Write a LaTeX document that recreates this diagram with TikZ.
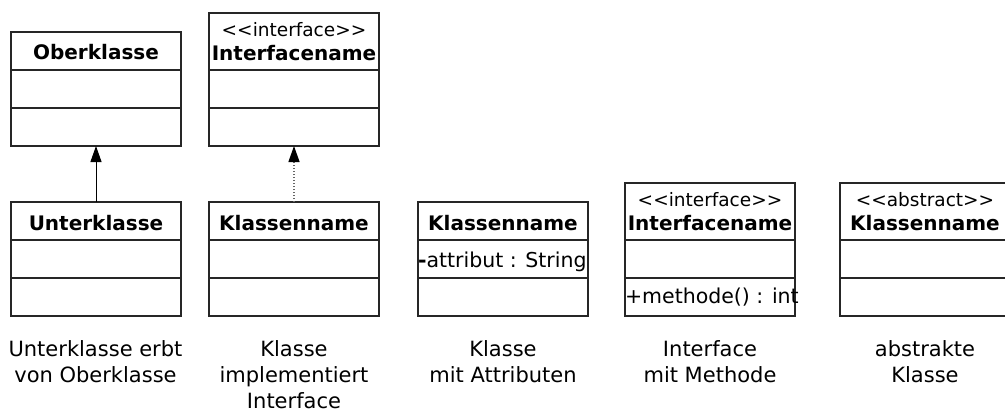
\documentclass[tikz,border=0pt]{standalone}
\usepackage{fontspec}
\newfontfamily\dv{DejaVu Sans}
\usetikzlibrary{arrows.meta}
\begin{document}
\begin{tikzpicture}[x=1pt,y=-1pt,
  box/.style={draw=black!85, line width=1.3pt, minimum width=170pt, inner sep=0pt, outer sep=0pt, anchor=north west},
  hdr/.style={box, minimum height=38pt, text height=18pt, text depth=0pt, font=\dv\fontsize{20}{23}\selectfont\bfseries},
  hdrtwo/.style={box, minimum height=57pt, align=center, font=\dv\fontsize{18.5}{24}\selectfont},
  comp/.style={box, minimum height=38pt},
  member/.style={comp, font=\dv\fontsize{20.5}{24}\selectfont},
  caption/.style={anchor=north, align=center, inner sep=0pt, font=\dv\fontsize{21}{26}\selectfont},
  inh/.style={draw=black, line width=1pt, -{Triangle[width=11pt,length=16pt,color=black]}},
  real/.style={inh, draw=black!60, line width=1.3pt, dash pattern=on 1.5pt off 1.5pt}
]
\useasboundingbox (0,0) rectangle (1005,412);
\fill[white] (0,0) rectangle (1005,412);

% Oberklasse
\node[hdr] (ob) at (11,32) {Oberklasse};
\node[comp] (ob1) at (ob.south west) {};
\node[comp] (ob2) at (ob1.south west) {};

% Interface (top)
\node[hdrtwo] (if) at (209,13) {<<interface>>\\{\fontsize{20}{24}\selectfont\bfseries Interfacename}};
\node[comp] (if1) at (if.south west) {};
\node[comp] (if2) at (if1.south west) {};

% Unterklasse
\node[hdr] (un) at (11,202) {Unterklasse};
\node[comp] (un1) at (un.south west) {};
\node[comp] (un2) at (un1.south west) {};

% Klassenname (implements)
\node[hdr] (kn) at (209,202) {Klassenname};
\node[comp] (kn1) at (kn.south west) {};
\node[comp] (kn2) at (kn1.south west) {};

% Klasse mit Attributen
\node[hdr] (ka) at (418,202) {Klassenname};
\node[member, text height=16pt, text depth=0pt] (ka1) at (ka.south west) {\makebox[170pt][l]{{\bfseries -}attribut : String}};
\node[comp] (ka2) at (ka1.south west) {};

% Interface mit Methode
\node[hdrtwo] (im) at (625,183) {<<interface>>\\{\fontsize{20}{24}\selectfont\bfseries Interfacename}};
\node[comp] (im1) at (im.south west) {};
\node[member, text height=12pt, text depth=0pt] (im2) at (im1.south west) {\makebox[170pt][l]{+methode() : int}};

% abstrakte Klasse
\node[hdrtwo] (ab) at (840,183) {<<abstract>>\\{\fontsize{20}{24}\selectfont\bfseries Klassenname}};
\node[comp] (ab1) at (ab.south west) {};
\node[comp] (ab2) at (ab1.south west) {};

% connectors
\draw[inh] (un.north) -- (ob2.south);
\draw[real] (kn.north) -- (if2.south);

% captions
\node[caption] (c1) at (95.5,340) {Unterklasse erbt\\von Oberklasse};
\node[caption] (c2) at (294,340) {Klasse\\implementiert\\Interface};
\node[caption] (c3) at (503,340) {Klasse\\mit Attributen};
\node[caption] (c4) at (710,340) {Interface\\mit Methode};
\node[caption] (c5) at (925,340) {abstrakte\\Klasse};
\end{tikzpicture}
\end{document}
